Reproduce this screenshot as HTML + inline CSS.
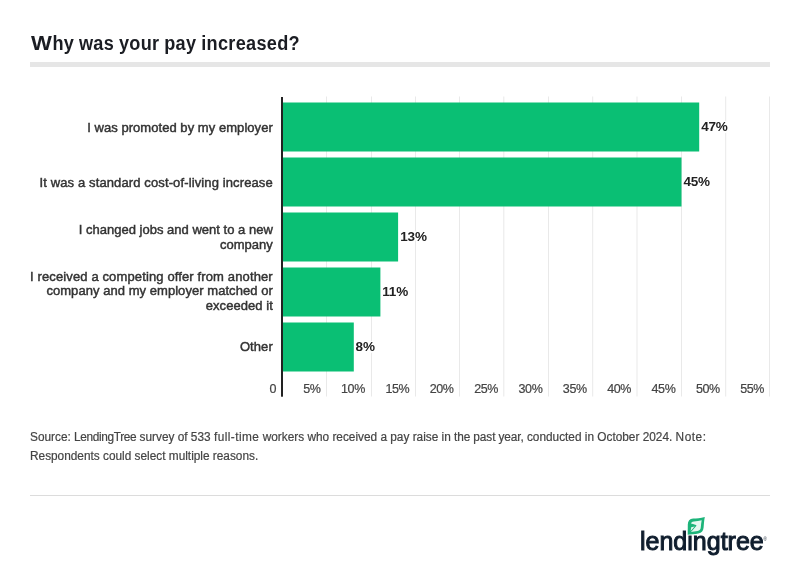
<!DOCTYPE html>
<html lang="en">
<head>
<meta charset="utf-8">
<title>Why was your pay increased?</title>
<style>
  html,body{margin:0;padding:0;background:#fff;}
  body{width:800px;height:577px;position:relative;overflow:hidden;font-family:"Liberation Sans",sans-serif;}
  .abs{position:absolute;}
  #title{left:30.5px;top:30.5px;font-size:20px;font-weight:bold;color:#1b1d23;white-space:nowrap;line-height:24px;letter-spacing:0.34px;word-spacing:-0.6px;transform:scaleX(0.906);transform-origin:0 0;}
  #title .w{display:inline-block;transform:scaleX(1.22);transform-origin:0 0;margin-right:4.4px;}
  #bar{left:30px;top:62px;width:740px;height:5px;background:#e6e6e6;}
  #chart{left:0;top:0;}
  .cat{right:527.2px;width:262px;text-align:right;font-size:13px;line-height:14.7px;color:#333;letter-spacing:0.08px;-webkit-text-stroke:0.45px #333;}
  .val{font-size:13.5px;letter-spacing:-0.2px;font-weight:bold;color:#222;line-height:15px;white-space:nowrap;text-shadow:-1.5px 0 #fff,1.5px 0 #fff,0 -1.5px #fff,0 1.5px #fff,-1.1px -1.1px #fff,1.1px 1.1px #fff,-1.1px 1.1px #fff,1.1px -1.1px #fff;}
  .tick{top:381.6px;width:43.6px;letter-spacing:-0.4px;text-align:right;font-size:12.5px;line-height:15px;color:#444;white-space:nowrap;-webkit-text-stroke:0.2px #444;}
  #src{left:29.7px;top:428px;width:820px;font-size:12px;line-height:19px;color:#444;-webkit-text-stroke:0.2px #444;transform:scaleX(0.986);transform-origin:0 0;white-space:nowrap;}
  #hr{left:30px;top:495px;width:740px;height:1px;background:#dcdcdc;}
  #logo{left:640px;top:526px;font-size:25px;line-height:30px;color:#0f1d2d;white-space:nowrap;-webkit-text-stroke:1px #0f1d2d;}
  #reg{font-size:4.5px;position:absolute;left:123.6px;top:10.5px;-webkit-text-stroke:0;line-height:6px;}
</style>
</head>
<body>
<div id="title" class="abs"><span class="w">W</span>hy was your pay increased?</div>
<div id="bar" class="abs"></div>

<svg id="chart" class="abs" width="800" height="577" viewBox="0 0 800 577">
  <g fill="#e9e9e9">
    <rect x="326" y="96.5" width="1" height="300"/>
    <rect x="371" y="96.5" width="1" height="300"/>
    <rect x="415" y="96.5" width="1" height="300"/>
    <rect x="459" y="96.5" width="1" height="300"/>
    <rect x="503.3" y="96.5" width="1" height="300"/>
    <rect x="548" y="96.5" width="1" height="300"/>
    <rect x="592.2" y="96.5" width="1" height="300"/>
    <rect x="636.5" y="96.5" width="1" height="300"/>
    <rect x="681" y="96.5" width="1" height="300"/>
    <rect x="725.2" y="96.5" width="1" height="300"/>
    <rect x="769" y="96.5" width="1" height="300"/>
  </g>
  <g fill="#0abf74">
    <rect x="283" y="102.5" width="416.2" height="49"/>
    <rect x="283" y="157.5" width="398.5" height="49"/>
    <rect x="283" y="212.5" width="115.1" height="49"/>
    <rect x="283" y="267.5" width="97.4" height="49"/>
    <rect x="283" y="322.5" width="70.8" height="49"/>
  </g>
  <rect x="281" y="97" width="2" height="299.7" fill="#222"/>
</svg>

<div class="abs cat" style="top:121px;letter-spacing:0.05px">I was promoted by my employer</div>
<div class="abs cat" style="top:176px;letter-spacing:0.12px">It was a standard cost-of-living increase</div>
<div class="abs cat" style="top:223px;letter-spacing:0.01px">I changed jobs and went to a new<br>company</div>
<div class="abs cat" style="top:269.5px;letter-spacing:0.13px">I received a competing offer from another<br><span style="letter-spacing:0.05px">company and my employer matched or</span><br><span style="letter-spacing:0.05px">exceeded it</span></div>
<div class="abs cat" style="top:340px">Other</div>

<div class="abs val" style="left:701.2px;top:119px">47%</div>
<div class="abs val" style="left:683.4px;top:174px">45%</div>
<div class="abs val" style="left:400.3px;top:229px">13%</div>
<div class="abs val" style="left:382.3px;top:284px">11%</div>
<div class="abs val" style="left:355.6px;top:339px">8%</div>

<div class="abs tick" style="left:232.5px">0</div>
<div class="abs tick" style="left:277px">5%</div>
<div class="abs tick" style="left:321.3px">10%</div>
<div class="abs tick" style="left:365.7px">15%</div>
<div class="abs tick" style="left:410px">20%</div>
<div class="abs tick" style="left:454.4px">25%</div>
<div class="abs tick" style="left:498.8px">30%</div>
<div class="abs tick" style="left:543.1px">35%</div>
<div class="abs tick" style="left:587.5px">40%</div>
<div class="abs tick" style="left:631.8px">45%</div>
<div class="abs tick" style="left:676.2px">50%</div>
<div class="abs tick" style="left:720.5px">55%</div>

<div id="src" class="abs">Source: <span style="letter-spacing:-0.35px">LendingTree</span> survey of 533 <span style="letter-spacing:0.46px">full-time</span> workers who received a pay raise in <span style="letter-spacing:-0.11px">the past year,</span> conducted in October 2024. <span style="letter-spacing:0.55px">Note:</span><br>Respondents could select multiple reasons.</div>
<div id="hr" class="abs"></div>

<div id="logo" class="abs">lendingtree<span id="reg">®</span></div>
<svg id="leaf" class="abs" width="24" height="24" viewBox="684 514 24 24" style="left:684px;top:514px">
  <rect x="687.5" y="529" width="5.5" height="5.8" fill="#fff"/>
  <path d="M704.8 516.9 C700.5 518.2 696.5 518.3 693.2 518.5 C689.6 518.8 687.8 521 687.8 524.6 L687.7 534.8 C690.5 534.4 695.2 534.3 698.4 533.6 C701.8 532.8 703.3 530.6 703.6 527.5 C703.9 523.8 704.1 520.5 704.8 516.9 Z" fill="#1db47a"/>
  <path d="M701.7 520.2 C699.3 520.9 696.6 521.2 694 521.4 C691.8 521.6 690.7 522.8 690.7 524.9 L690.6 531.9 C692.8 531.6 695.4 531.5 697.6 531 C699.8 530.5 700.6 529.3 700.8 527.2 C701 524.8 701.2 522.5 701.7 520.2 Z" fill="#e8f8f1"/>
  <path d="M690.2 523.8 L695.8 525.6 L689.2 533 Z" fill="#1db47a" stroke="#1db47a" stroke-width="1.2" stroke-linejoin="round"/>
  <path d="M691.2 527.2 L694.6 526.6 L690.7 531 Z" fill="#e8f8f1"/>
</svg>
</body>
</html>
